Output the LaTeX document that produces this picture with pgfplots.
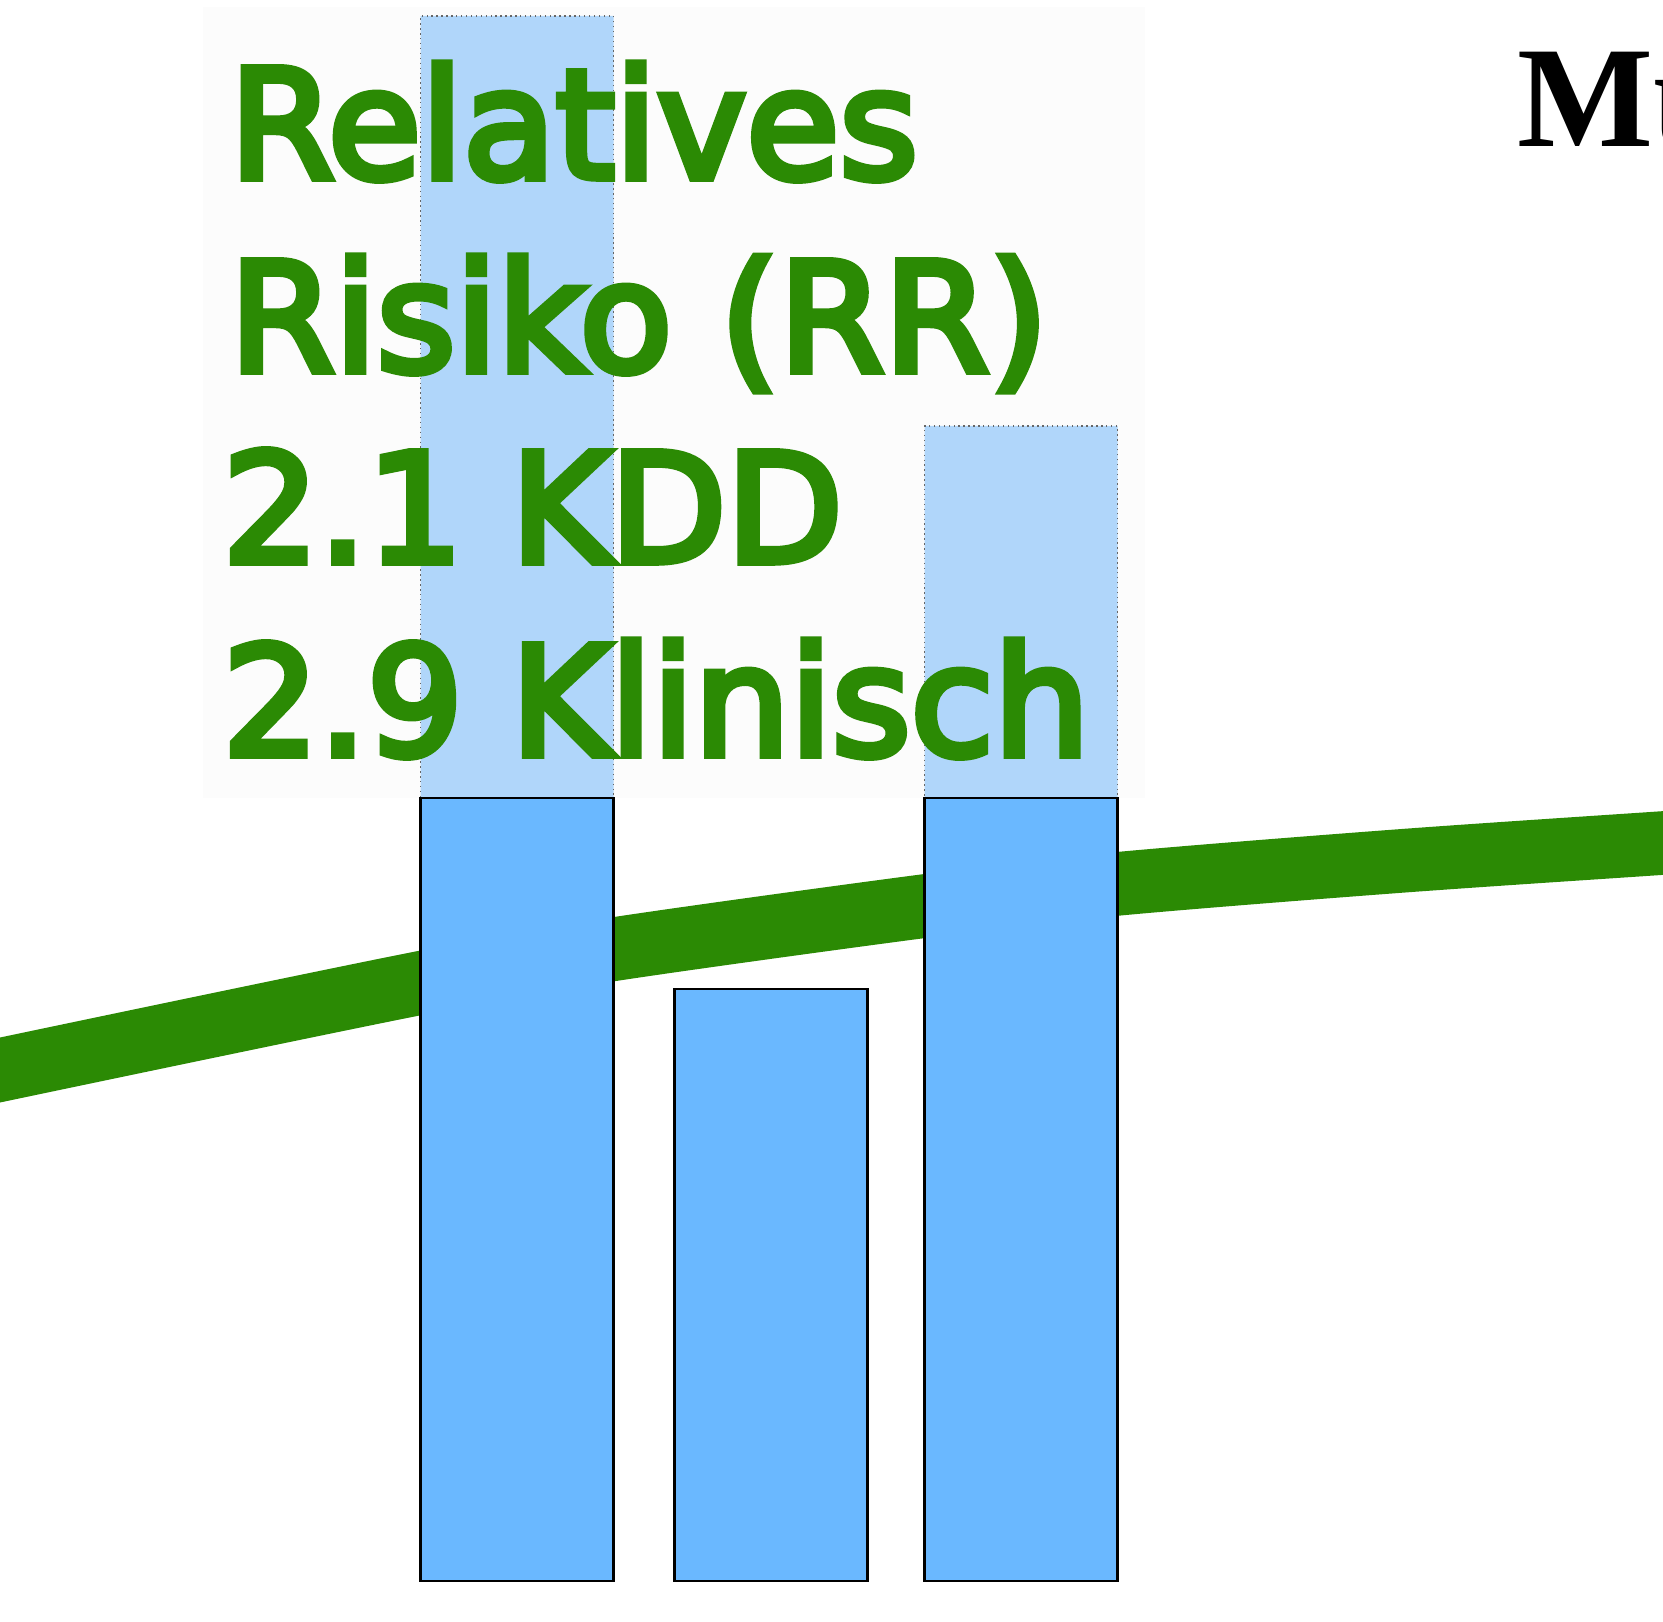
\documentclass[border=0pt]{standalone}
\usepackage{pgfplots}
\pgfplotsset{compat=1.18}
\usepackage{fontspec}
\setmainfont{DejaVu Sans}
\newfontfamily\rrfont[FakeBold=5]{DejaVu Sans}
\newfontfamily\serifb{Liberation Serif}
\definecolor{rrgreen}{RGB}{43,138,4}
\definecolor{barblue}{RGB}{106,184,255}
\definecolor{barlight}{RGB}{176,214,250}
\begin{document}
\begin{tikzpicture}
\useasboundingbox (0,0) rectangle (16.63cm,16.21cm);
\clip (0,0) rectangle (16.63cm,16.21cm);
\begin{axis}[
  at={(0,0)}, anchor=south west,
  scale only axis, width=16.63cm, height=16.21cm,
  xmin=0, xmax=1663, ymin=-40, ymax=1581,
  hide axis, clip=true,
  ybar, bar shift=0pt,
]
% faint background box behind the text
\addplot[sharp plot, fill=black!1, draw=none, forget plot] coordinates {(203,783) (1145,783) (1145,1574) (203,1574)} -- cycle;
% trend line
\addplot[sharp plot, smooth, line width=6.36mm, draw=rrgreen, forget plot] coordinates {
 (-60,497) (0,511) (420,598) (615,632) (925,675) (1116,697) (1400,720) (1663,738) (1720,742)};
% light (upper) bar parts
\addplot[ybar, bar width=193, fill=barlight, draw=black!60, densely dotted, line width=0.4pt] coordinates {(517,1565) (1021,1155)};
% solid bars
\addplot[ybar, bar width=193, fill=barblue, draw=black, line width=0.6pt] coordinates {(517,783) (771,592) (1021,783)};
\node[anchor=base west, text=rrgreen, font=\rrfont\fontsize{43}{52}\selectfont, inner sep=0pt] at (axis cs:229,1403) {Relatives};
\node[anchor=base west, text=rrgreen, font=\rrfont\fontsize{43}{52}\selectfont, inner sep=0pt] at (axis cs:229,1210) {Risiko (RR)};
\node[anchor=base west, text=rrgreen, font=\rrfont\fontsize{43}{52}\selectfont, inner sep=0pt] at (axis cs:222,1019) {2.1 KDD};
\node[anchor=base west, text=rrgreen, font=\rrfont\fontsize{43}{52}\selectfont, inner sep=0pt] at (axis cs:222,826) {2.9 Klinisch};
\node[anchor=base west, text=black, font=\serifb\bfseries\fontsize{41}{48}\selectfont, inner sep=0pt] at (axis cs:1517,1434) {Mü};
\end{axis}
\end{tikzpicture}
\end{document}
